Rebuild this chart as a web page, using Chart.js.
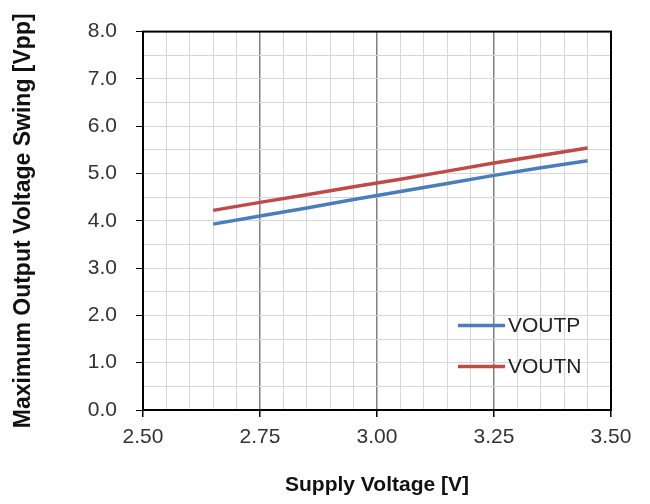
<!DOCTYPE html>
<html>
<head>
<meta charset="utf-8">
<script src="https://cdn.jsdelivr.net/npm/chart.js@4/dist/chart.umd.min.js"></script>
<style>
  html, body { margin: 0; padding: 0; background: #fff; }
  #wrap { width: 650px; height: 504px; }
</style>
</head>
<body>
<div id="wrap"><canvas id="swing" width="650" height="504"></canvas></div>
<script>
// Supply voltage sweep [V]
const supply = [2.65, 2.75, 2.85, 2.95, 3.05, 3.15, 3.25, 3.35, 3.45];
// Max output swing [Vpp]
const voutp = [3.93, 4.10, 4.27, 4.45, 4.62, 4.79, 4.96, 5.12, 5.27];
const voutn = [4.22, 4.39, 4.55, 4.72, 4.88, 5.05, 5.22, 5.38, 5.54];

const seriesNames = ['VOUTP', 'VOUTN'];
const seriesColors = ['#4a7ebb', '#be4b48'];

const isStep = (v, step) => Math.abs(v / step - Math.round(v / step)) < 1e-6;

const FONT = "'Liberation Sans', Arial, sans-serif";

// black box around the plot area
const frame = {
    id: 'frame',
    afterDraw(chart) {
        const { ctx, chartArea: a } = chart;
        ctx.save();
        ctx.strokeStyle = '#000';
        ctx.lineWidth = 2;
        ctx.strokeRect(a.left, a.top, a.right - a.left, a.bottom - a.top);
        ctx.restore();
    },
};

// legend drawn inside the plot, lower right
const insideLegend = {
    id: 'insideLegend',
    afterDraw(chart) {
        const { ctx, chartArea: a } = chart;
        ctx.save();
        ctx.font = '21px ' + FONT;
        ctx.textBaseline = 'middle';
        ctx.fillStyle = '#222';
        chart.data.datasets.forEach((ds, i) => {
            const y = a.top + 294 + i * 41;
            const x0 = a.left + 315;
            ctx.strokeStyle = ds.borderColor;
            ctx.lineWidth = ds.borderWidth;
            ctx.beginPath();
            ctx.moveTo(x0, y);
            ctx.lineTo(x0 + 47, y);
            ctx.stroke();
            ctx.fillText(ds.label, x0 + 50, y + 1);
        });
        ctx.restore();
    },
};

const datasets = [voutp, voutn].map((vals, i) => ({
    label: seriesNames[i],
    data: supply.map((x, k) => ({ x: x, y: vals[k] })),
    borderColor: seriesColors[i],
    backgroundColor: seriesColors[i],
    borderWidth: 3.5,
    pointRadius: 0,
    tension: 0,
}));

new Chart(document.getElementById('swing'), {
    type: 'line',
    data: { datasets: datasets },
    options: {
        responsive: false,
        animation: false,
        layout: { padding: { top: 28, right: 39, left: 0, bottom: 0 } },
        plugins: {
            legend: { display: false },
            tooltip: { enabled: false },
        },
        scales: {
            x: {
                type: 'linear',
                min: 2.5,
                max: 3.5,
                afterFit: s => { s.height = 94; },
                ticks: {
                    stepSize: 0.05,
                    autoSkip: false,
                    maxRotation: 0,
                    padding: 8,
                    color: '#333',
                    font: { family: FONT, size: 21 },
                    callback: v => (isStep(v, 0.25) ? v.toFixed(2) : ''),
                },
                grid: {
                    tickLength: 7,
                    lineWidth: ctx => (isStep(ctx.tick.value, 0.25) ? 1.5 : 1),
                    color: ctx => (isStep(ctx.tick.value, 0.25) ? '#808080' : '#d6d6d6'),
                    tickColor: ctx => (isStep(ctx.tick.value, 0.25) ? '#000' : 'rgba(0,0,0,0)'),
                },
                border: { color: '#000', width: 2 },
                title: {
                    display: true,
                    text: 'Supply Voltage [V]',
                    color: '#111',
                    font: { family: FONT, size: 21, weight: 'bold' },
                    padding: { top: 0, bottom: 6 },
                },
            },
            y: {
                min: 0,
                max: 8,
                afterFit: s => { s.width = 143; },
                ticks: {
                    stepSize: 0.5,
                    autoSkip: false,
                    padding: 19,
                    color: '#333',
                    font: { family: FONT, size: 21 },
                    callback: v => (isStep(v, 1) ? v.toFixed(1) : ''),
                },
                grid: {
                    tickLength: 7,
                    color: '#d6d6d6',
                    tickColor: ctx => (isStep(ctx.tick.value, 1) ? '#000' : 'rgba(0,0,0,0)'),
                },
                border: { color: '#000', width: 2 },
                title: {
                    display: true,
                    text: 'Maximum Output Voltage Swing [Vpp]',
                    color: '#111',
                    font: { family: FONT, size: 23, weight: 'bold' },
                    padding: { top: 10, bottom: 0 },
                },
            },
        },
    },
    plugins: [frame, insideLegend],
});
</script>
</body>
</html>
